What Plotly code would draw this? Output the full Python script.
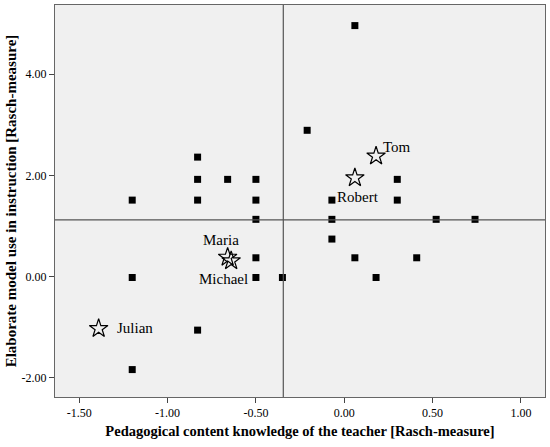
import plotly.graph_objects as go

# teacher scores (Rasch measures)
pck = [0.06, -0.21, -0.83, -0.83, -0.66, -0.50, 0.30, -1.20, -0.83, -0.50,
       -0.07, 0.30, -0.50, -0.07, 0.52, 0.74, -0.07, -0.50, 0.06, 0.41,
       -1.20, -0.50, -0.35, 0.18, -0.83, -1.20]
model_use = [4.96, 2.89, 2.36, 1.92, 1.92, 1.92, 1.92, 1.51, 1.51, 1.51,
             1.51, 1.51, 1.13, 1.13, 1.13, 1.13, 0.74, 0.37, 0.37, 0.37,
             -0.02, -0.02, -0.02, -0.02, -1.06, -1.84]

# highlighted teachers
names = ["Tom", "Robert", "Maria", "Michael", "Julian"]
names_pck = [0.18, 0.06, -0.66, -0.64, -1.39]
names_use = [2.38, 1.95, 0.38, 0.31, -1.03]

# mean lines
mean_pck = -0.345
mean_use = 1.12

x_ticks = [-1.5, -1, -0.5, 0, 0.5, 1]
x_labels = ["-1.50", "-1.00", "-0.50", "0.00", "0.50", "1.00"]
y_ticks = [-2, 0, 2, 4]
y_labels = ["-2.00", "0.00", "2.00", "4.00"]

serif = "Liberation Serif, Times New Roman, Times, serif"

fig = go.Figure()
fig.add_trace(go.Scatter(x=pck, y=model_use, mode="markers",
                         marker=dict(symbol="square", size=7, color="black"),
                         showlegend=False, hoverinfo="skip"))
fig.add_trace(go.Scatter(x=names_pck, y=names_use, mode="markers",
                         marker=dict(symbol="star-open", size=14, color="black",
                                     line=dict(width=1.2, color="black")),
                         showlegend=False, hoverinfo="skip"))

# name labels next to the stars (pixel offsets)
offsets = {"Tom": (21, 9, "center"), "Robert": (3, -19, "center"),
           "Maria": (-7, 17, "center"), "Michael": (-8, -18, "center"),
           "Julian": (16, 1, "left")}
for n, xv, yv in zip(names, names_pck, names_use):
    dx, dy, anchor = offsets[n]
    fig.add_annotation(x=xv, y=yv, text=n, showarrow=False, xshift=dx, yshift=dy,
                       xanchor=anchor, yanchor="middle",
                       font=dict(family=serif, size=15, color="black"))

fig.add_shape(type="line", xref="x", yref="paper", x0=mean_pck, x1=mean_pck, y0=0, y1=1,
              line=dict(color="#555", width=1.2))
fig.add_shape(type="line", xref="paper", yref="y", x0=0, x1=1, y0=mean_use, y1=mean_use,
              line=dict(color="#555", width=1.2))

fig.update_layout(
    width=550, height=447,
    margin=dict(l=55, r=5, t=5, b=50),
    plot_bgcolor="#f0f0f0", paper_bgcolor="white",
    font=dict(family=serif, size=12, color="black"),
)
fig.update_xaxes(range=[-1.637, 1.136], tickvals=x_ticks, ticktext=x_labels,
                 showgrid=False, zeroline=False, automargin=False,
                 ticks="outside", ticklen=5, tickcolor="#444",
                 showline=True, mirror=True, linecolor="#666", linewidth=1,
                 title=dict(text="<b>Pedagogical content knowledge of the teacher [Rasch-measure]</b>",
                            font=dict(family=serif, size=14.5), standoff=6))
fig.update_yaxes(range=[-2.382, 5.367], tickvals=y_ticks, ticktext=y_labels,
                 showgrid=False, zeroline=False, automargin=False,
                 ticks="outside", ticklen=5, tickcolor="#444",
                 showline=True, mirror=True, linecolor="#666", linewidth=1,
                 title=dict(text="<b>Elaborate model use in instruction [Rasch-measure]</b>",
                            font=dict(family=serif, size=15), standoff=1))

# page body has a default margin; drop it so the figure fills the window
fig.write_html("out.html", config={"displayModeBar": False},
               post_script="document.body.style.margin='0';document.body.style.overflow='hidden';")
